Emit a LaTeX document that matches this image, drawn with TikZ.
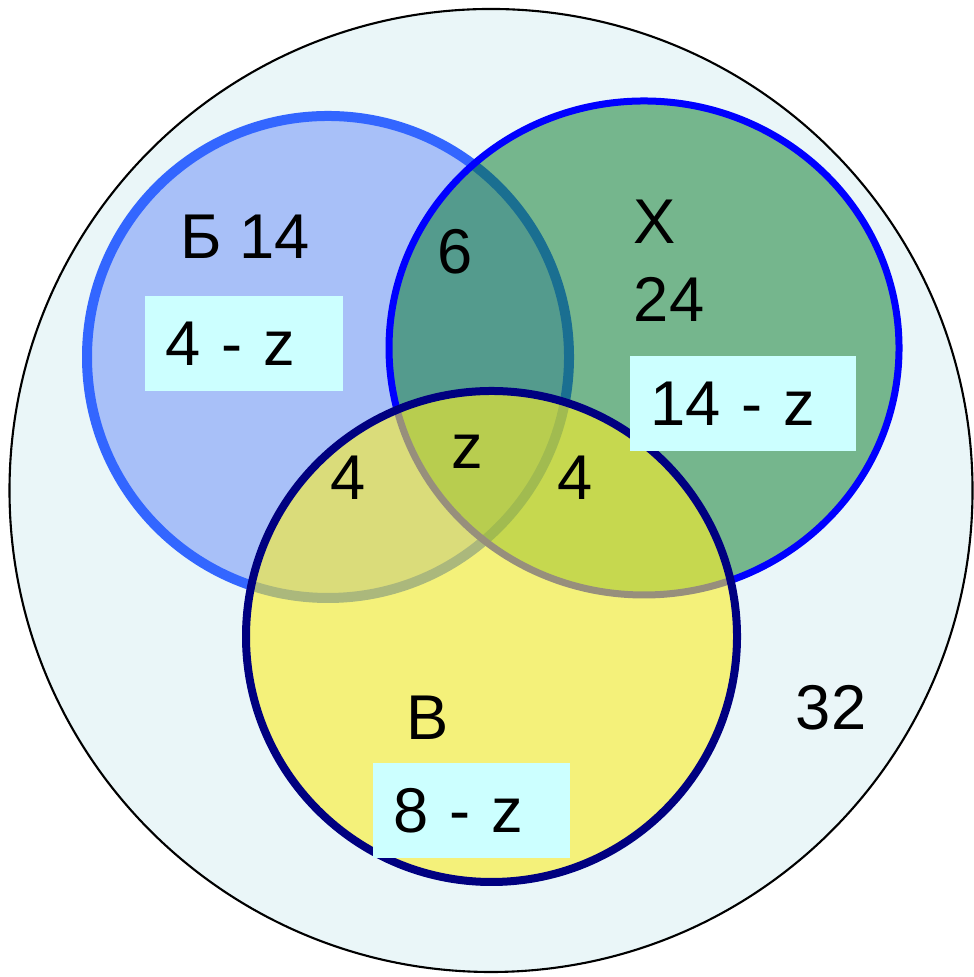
\documentclass[tikz,border=0pt]{standalone}
\usepackage{fontspec}
\setmainfont{Liberation Sans}
\definecolor{outerfill}{RGB}{234,246,248}
\definecolor{bfill}{RGB}{168,192,248}
\definecolor{bline}{RGB}{51,102,255}
\definecolor{xfill}{RGB}{2,120,36}
\definecolor{xline}{RGB}{0,0,255}
\definecolor{vfill}{RGB}{252,239,38}
\definecolor{vline}{RGB}{0,0,128}
\definecolor{boxcyan}{RGB}{204,255,255}

\begin{document}
\begin{tikzpicture}[
    lbl/.style={inner sep=0pt, font=\fontsize{18}{22}\selectfont},
    zbox/.style={lbl, fill=boxcyan, inner xsep=0.2cm, minimum height=0.95cm, align=left}]
    \useasboundingbox (0,0) rectangle (9.73,9.77);

    %universe
    \filldraw[fill=outerfill, draw=black, line width=0.6pt] (4.91,4.865) circle (4.815);

    %sets
    \filldraw[fill=bfill, draw=bline, line width=0.1cm] (3.28,6.20) circle (2.41);
    \filldraw[fill=xfill, fill opacity=0.5, draw=xline, line width=0.07cm] (6.44,6.29) ellipse (2.55 and 2.47);
    \filldraw[fill=vfill, fill opacity=0.6, draw=vline, line width=0.08cm] (4.915,3.405) circle (2.455);

    %labels
    \node[lbl] (b) at (2.45,7.405) {Б 14};
    \node[lbl] (bx) at (4.55,7.25) {6};
    \node[lbl] (x) at (6.55,7.55) {Х};
    \node[lbl] (xn) at (6.69,6.78) {24};
    \node[lbl] (bxv) at (4.67,5.25) {z};
    \node[lbl] (bv) at (3.48,4.99) {4};
    \node[lbl] (xv) at (5.75,4.99) {4};
    \node[lbl] (v) at (4.28,2.59) {В};
    \node[lbl] (rest) at (8.31,2.69) {32};

    %boxes
    \node[zbox, text width=1.58cm] (bbox) at (2.44,6.335) {4 - z};
    \node[zbox, text width=1.86cm] (xbox) at (7.43,5.73) {14 - z};
    \node[zbox, text width=1.57cm] (vbox) at (4.715,1.66) {8 - z};
\end{tikzpicture}
\end{document}
